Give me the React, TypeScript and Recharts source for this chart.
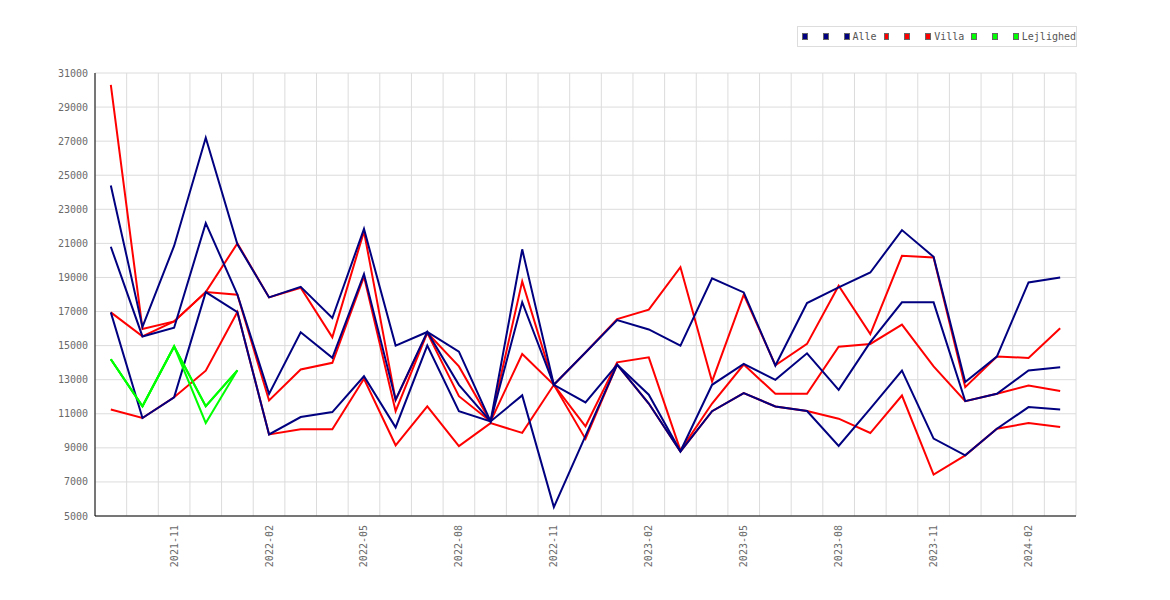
import React from 'react';
import { LineChart, Line, XAxis, YAxis, CartesianGrid, Legend } from 'recharts';

const months = [
  '2021-09', '2021-10', '2021-11', '2021-12', '2022-01', '2022-02', '2022-03', '2022-04',
  '2022-05', '2022-06', '2022-07', '2022-08', '2022-09', '2022-10', '2022-11', '2022-12',
  '2023-01', '2023-02', '2023-03', '2023-04', '2023-05', '2023-06', '2023-07', '2023-08',
  '2023-09', '2023-10', '2023-11', '2023-12', '2024-01', '2024-02', '2024-03',
];

const tickIndices = [2, 5, 8, 11, 14, 17, 20, 23, 26, 29];
const yTicks = [5000, 7000, 9000, 11000, 13000, 15000, 17000, 19000, 21000, 23000, 25000, 27000, 29000, 31000];

const alleA = [24400, 16100, 20850, 27200, 20950, 17830, 18450, 16620, 21850, 15000, 15800, 14650, 10550, 20650, 12700, 14600, 16500, 15950, 15000, 18950, 18120, 13830, 17500, 18420, 19290, 21780, 20210, 12860, 14360, 18710, 19000];
const alleB = [20800, 15540, 16050, 22190, 18000, 12170, 15780, 14280, 19200, 11830, 15800, 12700, 10550, 17550, 12700, 11670, 13880, 12120, 8800, 12700, 13930, 12990, 14550, 12400, 15200, 17540, 17540, 11740, 12170, 13540, 13730];
const alleC = [16950, 10750, 11970, 18140, 16970, 9790, 10810, 11100, 13200, 10200, 15000, 11150, 10550, 12080, 5520, 9700, 13880, 11600, 8780, 11150, 12210, 11430, 11160, 9110, 11300, 13540, 9540, 8560, 10120, 11390, 11250];

const villaA = [30300, 15975, 16420, 18140, 21000, 17830, 18400, 15490, 21700, 11800, 15750, 13780, 10550, 18770, 12700, 14600, 16560, 17110, 19600, 12900, 17990, 13850, 15100, 18510, 15680, 20270, 20170, 12560, 14360, 14280, 16020];
const villaB = [16950, 15540, 16420, 18140, 17990, 11780, 13600, 13990, 19050, 11150, 15750, 12030, 10550, 14510, 12700, 10265, 14020, 14310, 8850, 11600, 13890, 12170, 12170, 14940, 15100, 16230, 13780, 11740, 12170, 12660, 12330];
const villaC = [11250, 10750, 11970, 13530, 16970, 9790, 10090, 10090, 13050, 9150, 11440, 9100, 10450, 9880, 12700, 9525, 13880, 11600, 8780, 11150, 12210, 11430, 11160, 10710, 9870, 12070, 7430, 8560, 10120, 10460, 10220];

const lejA = [14200, 11440, 14950, 11440, 13550];
const lejB = [14200, 11440, 14950, 10460, 13550];
const lejC = [14200, 11440, 14950, 11440, 13550];

const groups = [
  { name: 'Alle', color: '#000080', keys: ['alleA', 'alleB', 'alleC'] },
  { name: 'Villa', color: '#ff0000', keys: ['villaA', 'villaB', 'villaC'] },
  { name: 'Lejlighed', color: '#00ff00', keys: ['lejA', 'lejB', 'lejC'] },
];

// drawing order: Villa below Alle, Lejlighed on top
const drawOrder = [groups[1], groups[0], groups[2]];

const pick = (arr: number[], i: number) => (i < arr.length ? arr[i] : null);

const data = months.map((m, i) => ({
  idx: i,
  month: m,
  alleA: pick(alleA, i),
  alleB: pick(alleB, i),
  alleC: pick(alleC, i),
  villaA: pick(villaA, i),
  villaB: pick(villaB, i),
  villaC: pick(villaC, i),
  lejA: pick(lejA, i),
  lejB: pick(lejB, i),
  lejC: pick(lejC, i),
}));

const FONT = '"DejaVu Sans Mono", monospace';
const TEXT = '#6a6a6a';

const XTick = (props: any) => {
  const { x, y, payload } = props;
  return (
    <g transform={`translate(${x},${y})`}>
      <text
        transform="rotate(-90)"
        x={-1}
        y={0}
        dy="0.35em"
        textAnchor="end"
        fill={TEXT}
        fontSize={10}
        fontFamily={FONT}
      >
        {months[payload.value]}
      </text>
    </g>
  );
};

const renderLegend = () => (
  <div
    style={{
      boxSizing: 'border-box',
      width: 280,
      height: 21,
      border: '1px solid #dddddd',
      background: '#fff',
      display: 'flex',
      alignItems: 'center',
      paddingLeft: 4,
      fontFamily: FONT,
      fontSize: 10,
      color: '#555555',
      whiteSpace: 'nowrap',
      overflow: 'visible',
    }}
  >
    {groups.map((g, gi) => (
      <React.Fragment key={g.name}>
        {g.keys.map((k, ki) => (
          <span
            key={k}
            style={{
              display: 'inline-block',
              boxSizing: 'border-box',
              width: 7,
              height: 7,
              background: g.color,
              border: '1px solid #666',
              marginLeft: ki === 0 ? (gi === 0 ? 0 : 7) : 15,
            }}
          />
        ))}
        <span style={{ marginLeft: 3, lineHeight: '10px' }}>{g.name}</span>
      </React.Fragment>
    ))}
  </div>
);

const boundaries = Array.from({ length: months.length + 1 }, (_, k) => k);

export default function App() {
  return (
    <LineChart
      width={1160}
      height={585}
      data={data}
      margin={{ top: 65, right: 92, bottom: 17, left: 0 }}
      style={{ fontFamily: FONT }}
    >
      <CartesianGrid
        stroke="#dcdcdc"
        verticalCoordinatesGenerator={({ offset }: any) =>
          boundaries.map((k) => offset.left + (k * offset.width) / months.length)
        }
      />
      <XAxis
        dataKey="idx"
        type="number"
        domain={[-0.5, months.length - 0.5]}
        ticks={tickIndices}
        interval={0}
        stroke="#000"
        axisLine={{ stroke: '#000', strokeWidth: 1 }}
        tickLine={false}
        tick={<XTick />}
        height={60}
      />
      <YAxis
        domain={[5000, 31000]}
        ticks={yTicks}
        interval={0}
        width={87}
        stroke="#000"
        axisLine={{ stroke: '#000', strokeWidth: 1 }}
        tickLine={false}
        tickMargin={1}
        tick={{ fill: TEXT, fontSize: 10, fontFamily: FONT }}
      />
      <Legend
        layout="vertical"
        align="center"
        verticalAlign="middle"
        wrapperStyle={{ left: 789, top: 18, width: 280 }}
        content={renderLegend}
      />
      {drawOrder.map((g) =>
        g.keys.map((k) => (
          <Line
            key={k}
            dataKey={k}
            name={g.name}
            stroke={g.color}
            strokeWidth={2}
            dot={false}
            activeDot={false}
            isAnimationActive={false}
            connectNulls={false}
            legendType="square"
          />
        ))
      )}
    </LineChart>
  );
}
